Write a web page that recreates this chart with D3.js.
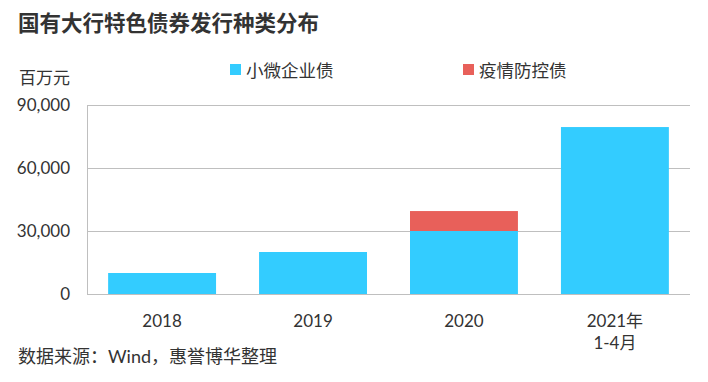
<!DOCTYPE html>
<html>
<head>
<meta charset="utf-8">
<script src="https://cdn.jsdelivr.net/npm/d3@7"></script>
<style>
    body { margin: 0; background: #fff; }
    text { font-family: Lato, "Noto Sans CJK SC", sans-serif; fill: #333; }
</style>
</head>
<body>
<div id="chart"></div>
<script>
var categories = [['2018'], ['2019'], ['2020'], ['2021年', '1-4月']];
var smallBiz = [10000, 20000, 30000, 79500];
var epidemic = [0, 0, 9500, 0];
var yTicks = [0, 30000, 60000, 90000];
var seriesNames = ['小微企业债', '疫情防控债'];
var colors = ['#33ccff', '#e8605a'];

var sWidth = 708;
var sHeight = 382;

var marg = { top: 105, bottom: 88, left: 87, right: 18 };

var svg = d3.select('#chart')
    .append('svg')
    .attr('width', sWidth)
    .attr('height', sHeight);

var x = d3.scaleBand()
    .domain(d3.range(categories.length))
    .range([marg.left, sWidth - marg.right])
    .paddingInner(0.285)
    .paddingOuter(0.14);

var y = d3.scaleLinear()
    .domain([0, 90000])
    .range([sHeight - marg.bottom, marg.top]);

// grid
svg.append('g')
    .selectAll('line')
    .data(yTicks)
    .enter()
    .append('line')
    .attr('x1', marg.left)
    .attr('x2', sWidth - marg.right)
    .attr('y1', d => y(d) + 0.5)
    .attr('y2', d => y(d) + 0.5)
    .attr('stroke', '#bfbfbf');

svg.append('line')
    .attr('x1', marg.left + 0.5)
    .attr('x2', marg.left + 0.5)
    .attr('y1', y(90000))
    .attr('y2', y(0))
    .attr('stroke', '#bfbfbf');

var leftAxis = d3.axisLeft(y)
    .tickValues(yTicks)
    .tickSize(0)
    .tickPadding(17)
    .tickFormat(d3.format(','));

var yAxis = svg.append('g')
    .attr('transform', `translate(${marg.left}, 0)`)
    .call(leftAxis);
yAxis.select('.domain').remove();
yAxis.selectAll('text')
    .style('font-size', '17px')
    .style('font-family', 'Lato, sans-serif')
    .attr('fill', '#333');

// bars
var stack = [smallBiz, epidemic];
stack.forEach(function(vals, s) {
    svg.append('g')
        .selectAll('rect')
        .data(vals)
        .enter()
        .append('rect')
        .attr('x', (d, i) => x(i))
        .attr('width', x.bandwidth())
        .attr('y', (d, i) => {
            var base = s === 0 ? 0 : smallBiz[i];
            return y(base + d);
        })
        .attr('height', (d, i) => y(0) - y(d))
        .attr('fill', colors[s]);
});

// x labels
var xLabels = svg.append('g');
categories.forEach(function(lines, i) {
    lines.forEach(function(t, k) {
        xLabels.append('text')
            .attr('x', x(i) + x.bandwidth() / 2)
            .attr('y', 327 + k * 22)
            .attr('text-anchor', 'middle')
            .style('font-size', '17px')
            .text(t);
    });
});

// title
svg.append('text')
    .attr('x', 18)
    .attr('y', 31)
    .style('font-size', '21.5px')
    .style('font-weight', 'bold')
    .style('font-family', '"Noto Sans CJK SC", sans-serif')
    .attr('fill', '#333')
    .text('国有大行特色债券发行种类分布');

svg.append('text')
    .attr('x', 19)
    .attr('y', 84)
    .style('font-size', '17px')
    .text('百万元');

// legend
var legendX = [230, 463];
seriesNames.forEach(function(name, i) {
    svg.append('rect')
        .attr('x', legendX[i])
        .attr('y', 64)
        .attr('width', 11)
        .attr('height', 11)
        .attr('fill', colors[i]);
    svg.append('text')
        .attr('x', legendX[i] + 16)
        .attr('y', 77)
        .style('font-size', '17.5px')
        .text(name);
});

svg.append('text')
    .attr('x', 18)
    .attr('y', 363)
    .style('font-size', '18px')
    .text('数据来源：Wind，惠誉博华整理');
</script>
</body>
</html>
